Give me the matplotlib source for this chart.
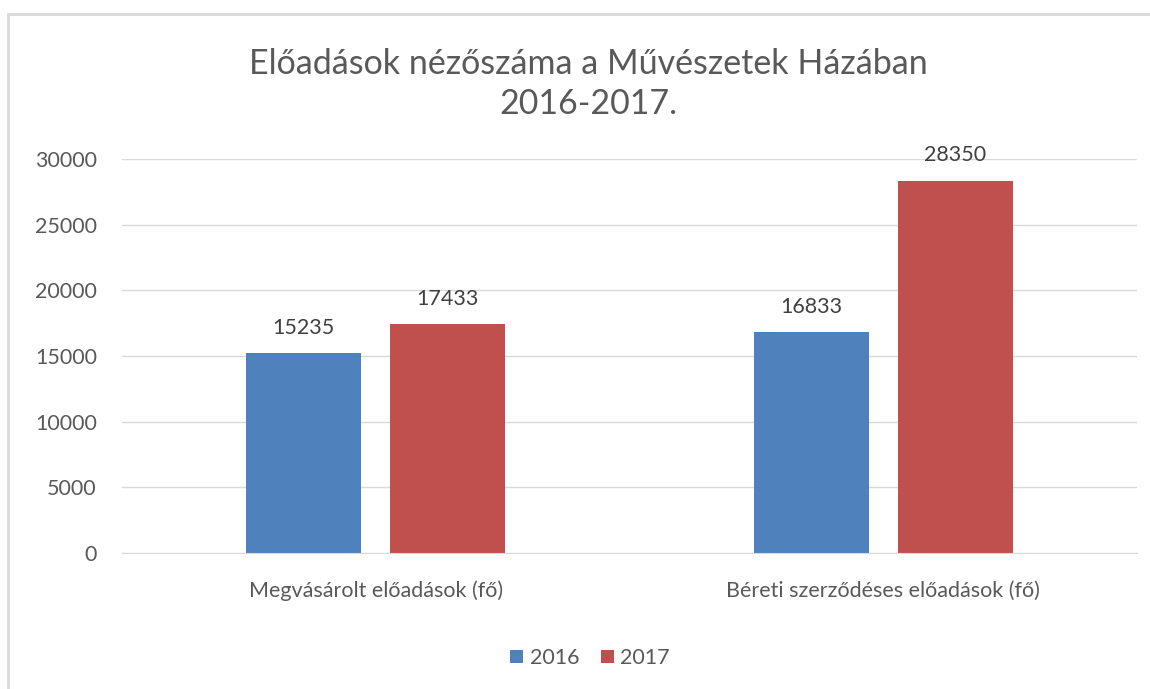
import matplotlib

matplotlib.use("Agg")

import matplotlib.pyplot as plt
import numpy as np
from matplotlib.patches import Rectangle

categories = ["Megvásárolt előadások (fő)", "Béreti szerződéses előadások (fő)"]
years = ["2016", "2017"]
values_2016 = [15235, 16833]
values_2017 = [17433, 28350]
colors = ["#4F81BD", "#C0504D"]
yticks = [0, 5000, 10000, 15000, 20000, 25000, 30000]

plt.rcParams["font.family"] = ["Lato", "DejaVu Sans"]
text_color = "#595959"

fig = plt.figure(figsize=(11.5, 6.89), dpi=100)
ax = fig.add_axes([0.106, 0.1974, 0.8827, 0.5718])

# chart frame (left and top edges visible)
fig.patches.append(Rectangle((8 / 1150, -0.1), 1.2, 0.1 + 1 - 14 / 689,
                             transform=fig.transFigure, fill=False,
                             edgecolor="#D9D9D9", lw=2))

x = np.arange(len(categories))
w = 0.227
off = 0.142
for vals, dx, c, lab in [(values_2016, -off, colors[0], years[0]),
                         (values_2017, off, colors[1], years[1])]:
    bars = ax.bar(x + dx, vals, width=w, color=c, label=lab, zorder=2)
    for b, v in zip(bars, vals):
        ax.annotate(str(v), (b.get_x() + b.get_width() / 2, v),
                    xytext=(0, 11), textcoords="offset points",
                    ha="center", va="bottom", fontsize=15.5, color="#404040")

ax.set_xlim(-0.5, 1.5)
ax.set_ylim(0, 30000)
ax.set_yticks(yticks)
ax.set_yticklabels([str(t) for t in yticks])
ax.set_xticks(x, categories)
ax.yaxis.grid(True, color="#D9D9D9", lw=1, zorder=0)
ax.set_axisbelow(True)
for s in ["top", "right", "left"]:
    ax.spines[s].set_visible(False)
ax.spines["bottom"].set_color("#D9D9D9")
ax.tick_params(axis="y", length=0, pad=18, labelsize=15.5, labelcolor=text_color)
ax.tick_params(axis="x", length=0, pad=20, labelsize=15.5, labelcolor=text_color)

fig.text(0.512, 0.878, "Előadások nézőszáma a Művészetek Házában\n2016-2017.",
         ha="center", va="center", fontsize=24.5, color=text_color,
         linespacing=1.3)

fig.legend(loc="center", bbox_to_anchor=(0.513, 0.045), ncol=2, frameon=False,
           fontsize=15.5, handlelength=0.6, handleheight=0.6, handletextpad=0.3,
           columnspacing=1.0, labelcolor=text_color)

fig.savefig("out.png", dpi=100)
plt.close(fig)
